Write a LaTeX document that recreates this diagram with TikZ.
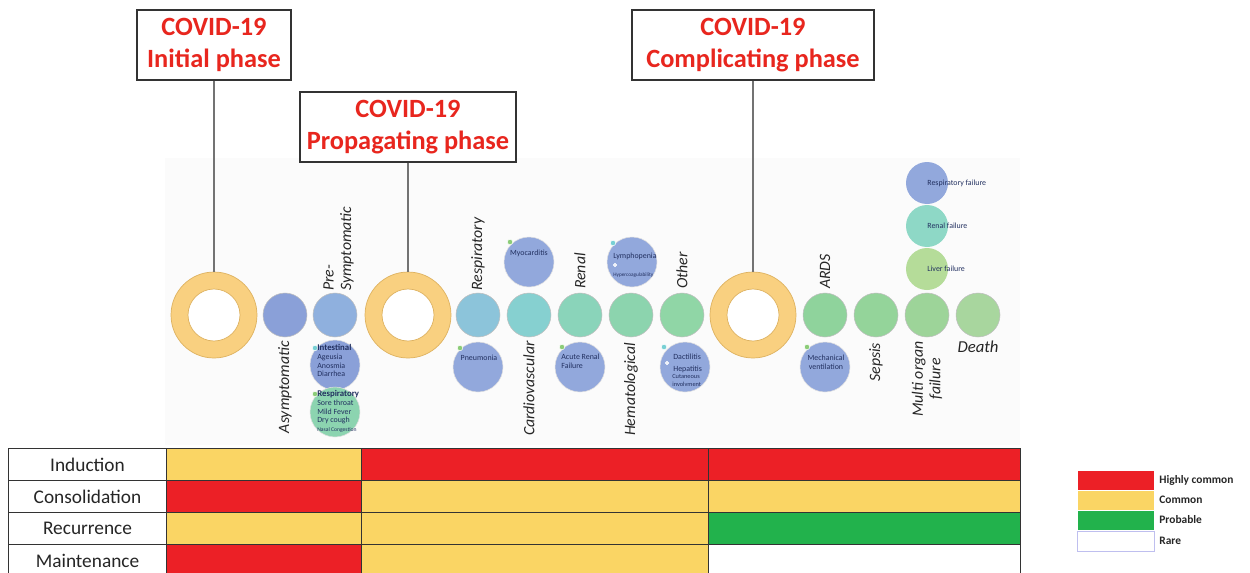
\documentclass[tikz,border=0pt]{standalone}
\usepackage{fontspec}
\setmainfont{Carlito}
\usetikzlibrary{positioning}

\definecolor{titlered}{RGB}{232,38,30}
\definecolor{ringfill}{RGB}{249,208,128}
\definecolor{ringedge}{RGB}{222,178,96}
\definecolor{highred}{RGB}{236,32,38}
\definecolor{comyellow}{RGB}{250,213,100}
\definecolor{probgreen}{RGB}{34,178,76}
\definecolor{navytext}{RGB}{34,48,96}
\definecolor{detailblue}{RGB}{146,168,220}
\definecolor{bulletgreen}{RGB}{140,204,120}
\definecolor{bulletcyan}{RGB}{120,208,212}
\definecolor{sA}{RGB}{138,160,216}
\definecolor{sB}{RGB}{143,176,222}
\definecolor{sC}{RGB}{140,196,218}
\definecolor{sD}{RGB}{134,208,208}
\definecolor{sE}{RGB}{138,212,186}
\definecolor{sF}{RGB}{140,212,174}
\definecolor{sG}{RGB}{144,214,166}
\definecolor{sH}{RGB}{143,211,156}
\definecolor{sI}{RGB}{148,212,154}
\definecolor{sJ}{RGB}{157,212,153}
\definecolor{sK}{RGB}{168,214,158}
\definecolor{stackteal}{RGB}{142,216,198}
\definecolor{stacklime}{RGB}{181,220,153}
\definecolor{resptealgreen}{RGB}{140,212,176}

\begin{document}
\begin{tikzpicture}[x=0.02cm, y=-0.02cm,
    phasebox/.style={draw=black!80, line width=0.8pt, fill=white, minimum height=1.4cm,
        align=center, text=titlered, inner sep=0pt,
        font=\bfseries\fontsize{15}{18}\selectfont},
    ring/.style={circle, minimum size=1.72cm, inner sep=0pt, fill=ringfill, draw=ringedge,
        line width=0.4pt,
        path picture={\fill[white] (path picture bounding box.center) circle (0.52cm);
            \draw[ringedge, line width=0.4pt] (path picture bounding box.center) circle (0.52cm);}},
    stage/.style={circle, minimum size=0.88cm, inner sep=0pt, draw=black!25, line width=0.3pt},
    detail/.style={circle, minimum size=1cm, inner sep=0pt, fill=detailblue, draw=black!12, line width=0.3pt},
    vlabel/.style={rotate=90, inner sep=0pt, align=center, text=black!85,
        font=\itshape\fontsize{9}{10}\selectfont},
    tiny/.style={inner sep=0pt, text=navytext, font=\fontsize{4.5}{5}\selectfont},
    bullet/.style={circle, minimum size=0.11cm, inner sep=0pt, fill=bulletgreen, draw=white, line width=0.3pt},
    rowlabel/.style={draw=black!80, line width=0.6pt, minimum width=3.16cm, minimum height=0.64cm,
        anchor=north west, inner sep=0pt, text=black!85, font=\fontsize{11}{12}\selectfont},
    cell/.style={draw=black!80, line width=0.6pt, minimum height=0.64cm, anchor=north west, inner sep=0pt},
    swatch/.style={minimum width=1.54cm, minimum height=0.4cm, anchor=north west, inner sep=0pt, draw=white, line width=0.6pt},
    keytext/.style={anchor=west, inner sep=0pt, text=black!85, font=\bfseries\fontsize{6.5}{8}\selectfont}
]
    \clip (0,0) rectangle (1250,572);
    \fill[white] (0,0) rectangle (1250,572);

    % Background panel
    \fill[black!1.5] (165,158) rectangle (1020,445);

    % Draw phase boxes
    \node[phasebox, minimum width=3.08cm] (initial) at (214,45) {COVID-19\\Initial phase};
    \node[phasebox, minimum width=4.32cm] (propagating) at (408,127) {COVID-19\\Propagating phase};
    \node[phasebox, minimum width=4.84cm] (complicating) at (753,45) {COVID-19\\Complicating phase};

    % Draw rings
    \node[ring] (ring1) at (214,315) {};
    \node[ring] (ring2) at (408,315) {};
    \node[ring] (ring3) at (753,315) {};

    % Draw connectors
    \draw[black!55, line width=0.6pt] (initial) -- (ring1);
    \draw[black!55, line width=0.6pt] (propagating) -- (ring2);
    \draw[black!55, line width=0.6pt] (complicating) -- (ring3);

    % Draw stage circles
    \node[stage, fill=sA] (asym) at (285,315) {};
    \node[stage, fill=sB] (presym) at (335,315) {};
    \node[stage, fill=sC] (resp) at (478,315) {};
    \node[stage, fill=sD] (cardio) at (529,315) {};
    \node[stage, fill=sE] (renal) at (580,315) {};
    \node[stage, fill=sF] (hemat) at (631,315) {};
    \node[stage, fill=sG] (other) at (682,315) {};
    \node[stage, fill=sH] (ards) at (825,315) {};
    \node[stage, fill=sI] (sepsis) at (876,315) {};
    \node[stage, fill=sJ] (multi) at (927,315) {};
    \node[stage, fill=sK] (death) at (978,315) {};

    % Stage labels
    \node[vlabel, anchor=east] at ([yshift=-2pt]asym.south) {Asymptomatic};
    \node[vlabel, anchor=west, align=left] at ([xshift=2pt, yshift=1pt]presym.north) {Pre-\\Symptomatic};
    \node[vlabel, anchor=west] at ([yshift=1pt]resp.north) {Respiratory};
    \node[vlabel, anchor=east] at ([yshift=-2pt]cardio.south) {Cardiovascular};
    \node[vlabel, anchor=west] at ([yshift=2pt]renal.north) {Renal};
    \node[vlabel, anchor=east] at ([yshift=-3pt]hemat.south) {Hematological};
    \node[vlabel, anchor=west] at ([yshift=2pt]other.north) {Other};
    \node[vlabel, anchor=west] at ([yshift=2pt]ards.north) {ARDS};
    \node[vlabel, anchor=east] at ([yshift=-3pt]sepsis.south) {Sepsis};
    \node[vlabel, anchor=east] at ([yshift=-2pt]multi.south) {Multi organ\\failure};
    \node[inner sep=0pt, text=black!85, font=\itshape\fontsize{9.5}{11}\selectfont] (deathlabel) at (978,347) {Death};

    % Pre-symptomatic details
    \node[detail, fill=sA] (intestinal) at (335,365) {};
    \node[bullet, fill=bulletcyan] at (315,348) {};
    \node[tiny, anchor=north west, align=left] at (317,344)
        {{\bfseries\fontsize{5}{5}\selectfont Intestinal}\\Ageusia\\Anosmia\\Diarrhea};
    \node[detail, fill=resptealgreen] (respdetail) at (335,412) {};
    \node[bullet] at (315,394) {};
    \node[tiny, anchor=north west, align=left] at (317,390)
        {{\bfseries\fontsize{5}{5}\selectfont Respiratory}\\Sore throat\\Mild Fever\\Dry cough\\{\fontsize{3.2}{4}\selectfont Nasal Congestion}};

    % Propagating details
    \node[detail] (myocarditis) at (529,262) {};
    \node[bullet] at (510,242) {};
    \node[tiny] at (529,253) {Myocarditis};
    \node[detail] (lymphopenia) at (632,262) {};
    \node[bullet, fill=bulletcyan] at (613,243) {};
    \node[tiny, anchor=west] at (613,256) {Lymphopenia};
    \node[bullet, minimum size=0.07cm, fill=white!80!detailblue] at (615,265) {};
    \node[tiny, anchor=west, font=\fontsize{3}{4}\selectfont] at (613,275) {Hypercoagulability};
    \node[detail] (pneumonia) at (478,367) {};
    \node[bullet] at (460,348) {};
    \node[tiny] at (479,358) {Pneumonia};
    \node[detail] (acuterenal) at (580,367) {};
    \node[bullet] at (562,347) {};
    \node[tiny, anchor=north west, align=left] at (561,354) {Acute Renal\\Failure};
    \node[detail] (dactilitis) at (685,367) {};
    \node[bullet, fill=bulletcyan] at (664,347) {};
    \node[tiny, anchor=west] at (673,357) {Dactilitis};
    \node[bullet, minimum size=0.07cm, fill=white!80!detailblue] at (667,363) {};
    \node[tiny, anchor=west] at (673,369) {Hepatitis};
    \node[tiny, anchor=north west, align=left, font=\fontsize{3.6}{4.6}\selectfont] at (672,374) {Cutaneous\\involvment};

    % Complicating details
    \node[detail] (mechanical) at (825,367) {};
    \node[bullet] at (807,347) {};
    \node[tiny, align=center] at (826,362) {Mechanical\\ventilation};
    \node[stage, fill=detailblue, minimum size=0.84cm, draw=none] (respfail) at (927,183) {};
    \node[stage, fill=stackteal, minimum size=0.84cm, draw=none] (renalfail) at (927,226) {};
    \node[stage, fill=stacklime, minimum size=0.84cm, draw=none] (liverfail) at (927,269) {};
    \node[tiny, anchor=west] at (927,183) {Respiratory failure};
    \node[tiny, anchor=west] at (927,226) {Renal failure};
    \node[tiny, anchor=west] at (927,269) {Liver failure};

    % Draw table
    \node[rowlabel] (induction) at (8,448) {Induction};
    \node[rowlabel] (consolidation) at (8,480) {Consolidation};
    \node[rowlabel] (recurrence) at (8,512) {Recurrence};
    \node[rowlabel] (maintenance) at (8,544) {Maintenance};
    \node[cell, minimum width=3.9cm, fill=comyellow] at (166,448) {};
    \node[cell, minimum width=6.94cm, fill=highred] at (361,448) {};
    \node[cell, minimum width=6.24cm, fill=highred] at (708,448) {};
    \node[cell, minimum width=3.9cm, fill=highred] at (166,480) {};
    \node[cell, minimum width=6.94cm, fill=comyellow] at (361,480) {};
    \node[cell, minimum width=6.24cm, fill=comyellow] at (708,480) {};
    \node[cell, minimum width=3.9cm, fill=comyellow] at (166,512) {};
    \node[cell, minimum width=6.94cm, fill=comyellow] at (361,512) {};
    \node[cell, minimum width=6.24cm, fill=probgreen] at (708,512) {};
    \node[cell, minimum width=3.9cm, fill=highred] at (166,544) {};
    \node[cell, minimum width=6.94cm, fill=comyellow] at (361,544) {};
    \node[cell, minimum width=6.24cm, fill=white] at (708,544) {};

    % Draw legend
    \node[swatch, fill=highred] (keyhigh) at (1077,470) {};
    \node[swatch, fill=comyellow] (keycommon) at (1077,490) {};
    \node[swatch, fill=probgreen] (keyprob) at (1077,510) {};
    \node[swatch, fill=white, draw=black!25!blue!25] (keyrare) at (1077,531) {};
    \node[keytext] at (1159,480) {Highly common};
    \node[keytext] at (1159,500) {Common};
    \node[keytext] at (1159,520) {Probable};
    \node[keytext] at (1159,541) {Rare};
\end{tikzpicture}
\end{document}
